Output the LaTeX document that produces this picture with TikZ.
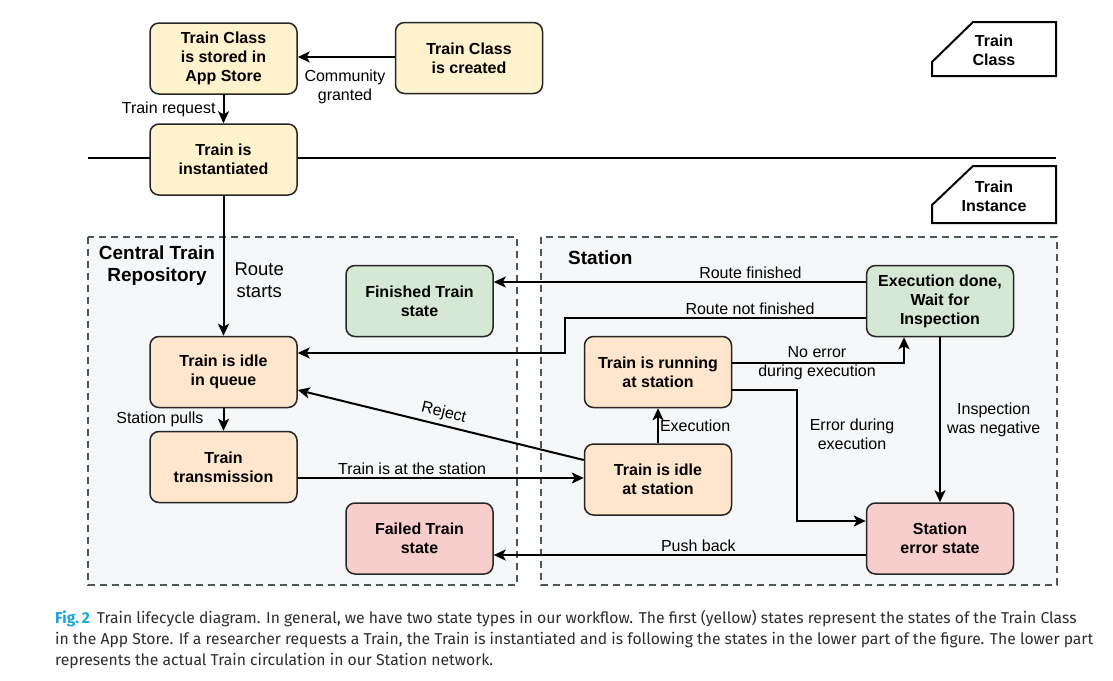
\documentclass[tikz,border=0pt]{standalone}
\usepackage{fontspec}
\setmainfont{Liberation Sans}
\newfontfamily\capfont{Fira Sans}
\usepackage{tikz}
\usetikzlibrary{arrows.meta}

\definecolor{classfill}{RGB}{255,242,204}
\definecolor{runfill}{RGB}{255,230,204}
\definecolor{okfill}{RGB}{213,232,212}
\definecolor{errfill}{RGB}{248,206,204}
\definecolor{areafill}{RGB}{245,247,248}
\definecolor{arealine}{RGB}{75,86,91}
\definecolor{capblue}{RGB}{26,163,224}
\definecolor{captext}{RGB}{45,45,45}

\begin{document}
\begin{tikzpicture}[x=1pt, y=-1pt,
  every node/.style={font=\fontsize{16}{19}\selectfont, inner sep=1pt},
  state/.style={draw=black!85, line width=1.5pt, rounded corners=9pt,
    minimum width=147pt, minimum height=71pt, align=center,
    font=\bfseries\fontsize{16}{19}\selectfont},
  flow/.style={line width=2pt, -{Stealth[length=12pt, width=11pt, inset=3pt]}},
  area/.style={draw=arealine, fill=areafill, line width=1.8pt, dash pattern=on 7pt off 5pt},
  tag/.style={draw=black, line width=2pt, fill=white},
  lbl/.style={font=\fontsize{16}{19}\selectfont, align=center},
  captionline/.style={anchor=base west, font=\capfont\fontsize{15.7}{18}\selectfont, text=captext, inner sep=0pt}]
  \fill[white] (0,0) rectangle (1113,680);
  \useasboundingbox (0,0) rectangle (1113,680);

  \draw[area] (88,237) rectangle (517,585);
  \draw[area] (541,237) rectangle (1057,585);
  \node[font=\bfseries\fontsize{19}{22}\selectfont, align=center] (repo) at (157,265.5) {Central Train\\Repository};
  \node[font=\bfseries\fontsize{19}{22}\selectfont, anchor=west] (stationtitle) at (567,258) {Station};

  \draw[line width=2pt] (88,158) -- (1056,158);
  \draw[tag] (932,62) -- (973,22) -- (1056,22) -- (1056,76) -- (932,76) -- cycle;
  \node[lbl, font=\bfseries\fontsize{16}{19}\selectfont] (tagclass) at (994,50) {Train\\Class};
  \draw[tag] (932,205) -- (973,166) -- (1056,166) -- (1056,223) -- (932,223) -- cycle;
  \node[lbl, font=\bfseries\fontsize{16}{19}\selectfont] (taginst) at (994,196) {Train\\Instance};

  \node[state, fill=classfill] (stored) at (223.5,58.5) {Train Class\\is stored in\\App Store};
  \node[state, fill=classfill] (created) at (469,58) {Train Class\\is created};
  \node[state, fill=classfill] (inst) at (223.5,159.5) {Train is\\instantiated};

  \node[state, fill=runfill] (queue) at (223.5,372) {Train is idle\\in queue};
  \node[state, fill=runfill] (trans) at (223.5,467) {Train\\transmission};
  \node[state, fill=okfill] (finished) at (419.5,301) {Finished Train\\state};
  \node[state, fill=errfill] (failed) at (419.5,538.5) {Failed Train\\state};

  \node[state, fill=okfill] (done) at (940,301) {Execution done,\\Wait for\\Inspection};
  \node[state, fill=runfill] (running) at (658,372) {Train is running\\at station};
  \node[state, fill=runfill] (idle) at (658,479.5) {Train is idle\\at station};
  \node[state, fill=errfill] (err) at (940,538.5) {Station\\error state};

  \draw[flow] (created.west |- 0,57) -- (stored.east |- 0,57);
  \node[lbl] (granted) at (345,87) {Community\\granted};
  \draw[flow] (stored) -- (inst) node[midway, left, xshift=-6pt] (req) {Train request};
  \draw[flow] (inst) -- (queue) node[pos=0.6, right, xshift=9pt, font=\fontsize{18.5}{22}\selectfont, align=center] (starts) {Route\\starts};
  \draw[flow] (queue) -- (trans) node[midway, left, xshift=-18pt] (pulls) {Station pulls};

  \draw[flow] (done.west |- 0,282) -- (finished.east |- 0,282) node[pos=0.31, above, yshift=1pt] (fin) {Route finished};
  \draw[flow] (done.west |- 0,318) -- (564.5,318) -- (564.5,353) -- (queue.east |- 0,353);
  \node[lbl] (notfin) at (750,309) {Route not finished};
  \draw[flow] (idle.west |- 0,460) -- (queue.east |- 0,390) node[pos=0.5, above, sloped, yshift=3pt] (reject) {Reject};
  \draw[flow] (trans.east |- 0,478) -- (idle.west |- 0,478) node[pos=0.4, above, yshift=1pt] (atst) {Train is at the station};
  \draw[flow] (idle) -- (running) node[midway, right, xshift=0pt] (exec) {Execution};
  \draw[flow] (running.east |- 0,363) -- (904,363) -- (done.south -| 904,0);
  \node[lbl] (noerr) at (817,363) {No error\\during execution};
  \draw[flow] (running.east |- 0,390) -- (797,390) -- (797,521) -- (err.west |- 0,521);
  \node[lbl] (errexec) at (852,434) {Error during\\execution};
  \draw[flow] (done) -- (err) node[midway, right, xshift=5pt, align=center] (neg) {Inspection\\was negative};
  \draw[flow] (err.west |- 0,555) -- (failed.east |- 0,555) node[pos=0.45, above, yshift=1pt] (push) {Push back};

  \node[captionline] (cap1) at (55,623)
    {{\bfseries\color{capblue}Fig.\,2}\hspace{7pt}Train lifecycle diagram. In general, we have two state types in our workflow. The first (yellow) states represent the states of the Train Class};
  \node[captionline] (cap2) at (55,644)
    {in the App Store. If a researcher requests a Train, the Train is instantiated and is following the states in the lower part of the figure. The lower part};
  \node[captionline] (cap3) at (55,665)
    {represents the actual Train circulation in our Station network.};
\end{tikzpicture}
\end{document}
